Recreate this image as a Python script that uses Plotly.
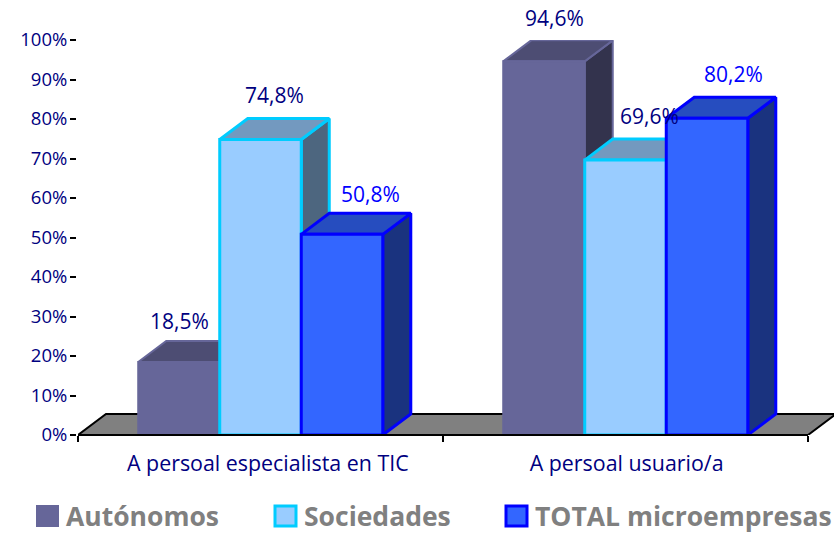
import plotly.graph_objects as go

categories = ["A persoal especialista en TIC", "A persoal usuario/a"]
series_names = ["Autónomos", "Sociedades", "TOTAL microempresas"]
autonomos = [18.5, 94.6]
sociedades = [74.8, 69.6]
total = [50.8, 80.2]
y_ticks = list(range(0, 101, 10))

W, H = 834, 535
ML, MR, MT, MB = 78, 0, 40, 100
PW, PH = W - ML - MR, H - MT - MB
FONT = "Open Sans"
NAVY = "#000080"

front = ["#666699", "#99CCFF", "#3366FF"]
top = ["#4D4D73", "#7399BF", "#264DBF"]
side = ["#33334D", "#4D667F", "#1A337F"]
edge = ["#666699", "#00CCFF", "#0000FF"]
edge_w = [2, 3, 3]
label_col = [NAVY, NAVY, "#0000FF"]
values = [autonomos, sociedades, total]

UNIT = 365              # pixels per category
GAP = 0.33
BW = (1 - GAP) / 3
DX = 28 / UNIT          # depth in x units
DY = 21 / (PH / 100)    # depth in y units

# per-label nudges in pixels (series, category)
lab_dx = [[1, 11], [14, 24], [28, 26]]
lab_dy = [[41, 43], [45, 44], [40, 44]]

fig = go.Figure()
fig.add_trace(go.Scatter(
    x=[-0.5, -0.5 + DX, 1.5 + DX, 1.5, -0.5], y=[0, DY, DY, 0, 0],
    mode="lines", fill="toself", fillcolor="#808080",
    line=dict(color="black", width=2), cliponaxis=False,
    showlegend=False, hoverinfo="skip", zorder=1))

for s, name in enumerate(series_names):
    xs_side, ys_side, xs_top, ys_top, xs_c = [], [], [], [], []
    for c, v in enumerate(values[s]):
        xl = c - 1.5 * BW + s * BW
        xr = xl + BW
        xs_c.append(xl + BW / 2)
        xs_side += [xr, xr + DX, xr + DX, xr, xr, None]
        ys_side += [0, DY, v + DY, v, 0, None]
        xs_top += [xl, xl + DX, xr + DX, xr, xl, None]
        ys_top += [v, v + DY, v + DY, v, v, None]
    z = 2 * s + 2
    for xs, ys, col in ((xs_side, ys_side, side[s]), (xs_top, ys_top, top[s])):
        fig.add_trace(go.Scatter(
            x=xs, y=ys, mode="lines", fill="toself", fillcolor=col,
            line=dict(color=edge[s], width=edge_w[s]), cliponaxis=False,
            showlegend=False, hoverinfo="skip", zorder=z))
    fig.add_trace(go.Bar(
        x=xs_c, y=values[s], width=BW, name=name,
        marker=dict(color=front[s], line=dict(color=edge[s], width=edge_w[s])),
        showlegend=False, cliponaxis=False, zorder=z + 1))

annotations = []
for s in range(3):
    for c, v in enumerate(values[s]):
        annotations.append(dict(
            x=c - 1.5 * BW + s * BW + BW / 2, y=v, xref="x", yref="y",
            text=f"{v:.1f}%".replace(".", ","), showarrow=False,
            xshift=lab_dx[s][c], yshift=lab_dy[s][c],
            font=dict(family=FONT, size=21, color=label_col[s])))

def px(x):
    return (x - ML) / PW

def py(y):
    return (H - MB - y) / PH

shapes = [dict(type="line", xref="x", yref="paper", x0=-0.5, x1=1.5, y0=0, y1=0,
               line=dict(color="black", width=2), layer="above")]
swatch_x = [37, 275, 506]
text_x = [66, 304, 535]
for s, name in enumerate(series_names):
    shapes.append(dict(
        type="rect", xref="paper", yref="paper",
        x0=px(swatch_x[s]), x1=px(swatch_x[s] + 21),
        y0=py(506), y1=py(526), fillcolor=front[s],
        line=dict(color=edge[s], width=edge_w[s])))
    annotations.append(dict(
        x=px(text_x[s]), y=py(516), xref="paper", yref="paper",
        xanchor="left", yanchor="middle", text=f"<b>{name}</b>", showarrow=False,
        xshift=-2, font=dict(family=FONT, size=26.5, color="#808080")))

fig.update_layout(
    width=W, height=H, autosize=False,
    margin=dict(l=ML, r=MR, t=MT, b=MB, autoexpand=False),
    paper_bgcolor="white", plot_bgcolor="white",
    barmode="overlay", showlegend=False,
    annotations=annotations, shapes=shapes,
    xaxis=dict(
        range=[-0.5, -0.5 + PW / UNIT], tickmode="array",
        tickvals=[0.02, 1.003], ticktext=categories,
        ticks="", showgrid=False, zeroline=False, showline=False,
        ticklabelstandoff=14,
        tickfont=dict(family=FONT, size=21.4, color=NAVY),
        minor=dict(tickmode="array", tickvals=[-0.5, 0.5, 1.5], ticks="outside",
                   ticklen=6, tickwidth=2, tickcolor="black", showgrid=False)),
    yaxis=dict(
        range=[0, 100], tickmode="array", tickvals=y_ticks,
        ticktext=[f"{t}%" for t in y_ticks], ticks="outside", ticklen=6,
        tickwidth=2, tickcolor="black", showgrid=False, zeroline=False,
        showline=True, linecolor="black", linewidth=2,
        ticklabelstandoff=-1,
        tickfont=dict(family=FONT, size=18.5, color=NAVY)),
)
fig.write_html("out.html", config=dict(displayModeBar=False),
               post_script="document.body.style.margin='0';")
